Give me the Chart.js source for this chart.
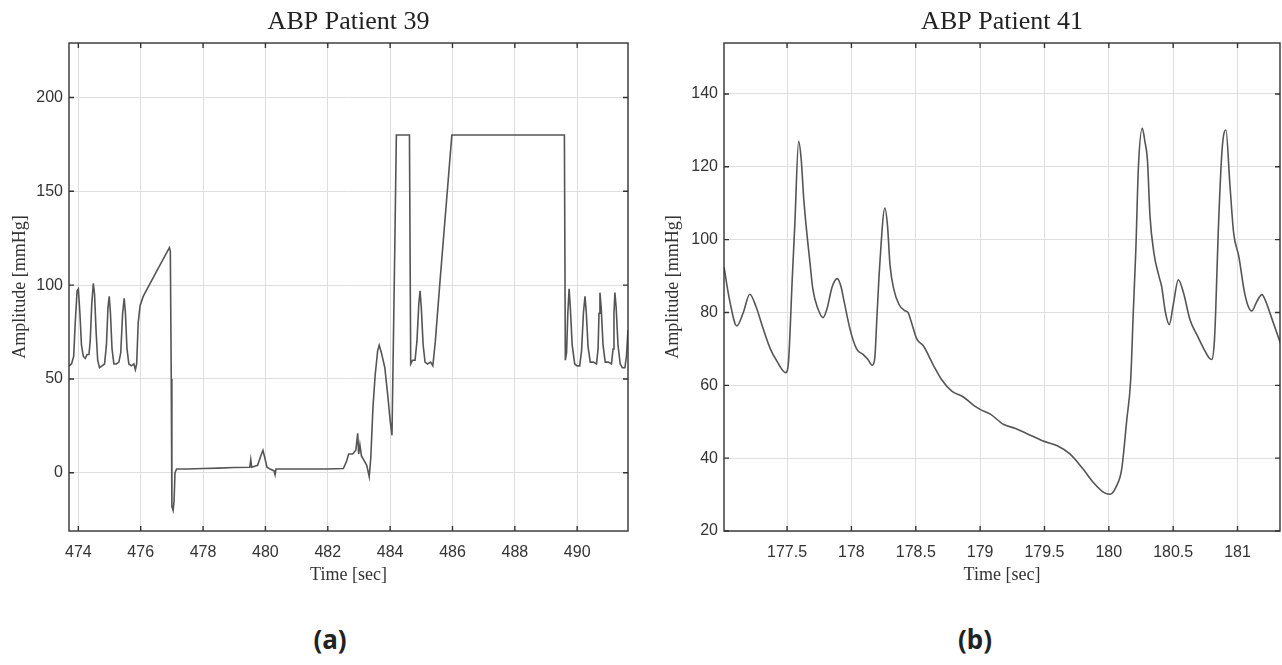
<!DOCTYPE html>
<html>
<head>
<meta charset="utf-8">
<script src="https://cdn.jsdelivr.net/npm/chart.js@4.4.1/dist/chart.umd.min.js"></script>
<style>
  body { margin: 0; background: #fff; width: 1282px; height: 665px; position: relative; overflow: hidden; }
  .panel { position: absolute; top: 0; }
  .panel canvas { display: block; }
  .caption { position: absolute; top: 621px; line-height: 30px; font: bold 26px "Noto Sans", sans-serif; color: #222; transform: translateX(-50%); }
</style>
</head>
<body>
<div class="panel" style="left:0"><canvas id="chartA" width="640" height="600"></canvas></div>
<div class="panel" style="left:640px"><canvas id="chartB" width="642" height="600"></canvas></div>
<div class="caption" style="left:330px">(a)</div>
<div class="caption" style="left:975px">(b)</div>

<script>
// Panel (a): ABP Patient 39
const time39 = [473.70, 473.78, 473.85, 473.90, 473.96, 474.00, 474.05, 474.10, 474.16, 474.22, 474.28, 474.34,
  474.38, 474.43, 474.48, 474.52, 474.57, 474.62, 474.68, 474.76, 474.84, 474.90, 474.95, 474.99, 475.03, 475.08,
  475.14, 475.22, 475.30, 475.36, 475.42, 475.47, 475.51, 475.56, 475.62, 475.70, 475.78, 475.83, 475.87, 475.92,
  475.98, 476.08, 476.50, 476.92, 476.95, 476.98, 477.00, 477.04, 477.07, 477.10, 477.15, 477.50, 478.00, 478.50,
  479.00, 479.50, 479.53, 479.56, 479.75, 479.85, 479.92, 479.98, 480.05, 480.15, 480.28, 480.31, 480.34, 481.00,
  482.00, 482.50, 482.60, 482.67, 482.80, 482.90, 482.96, 482.99, 483.03, 483.08, 483.15, 483.25, 483.33, 483.38,
  483.45, 483.52, 483.60, 483.65, 483.72, 483.83, 483.92, 484.00, 484.06, 484.15, 484.20, 484.62, 484.66, 484.72,
  484.80, 484.86, 484.92, 484.96, 485.00, 485.06, 485.12, 485.20, 485.30, 485.37, 485.45, 485.60, 485.98, 489.59,
  489.62, 489.66, 489.70, 489.74, 489.78, 489.84, 489.92, 490.00, 490.08, 490.14, 490.20, 490.25, 490.29, 490.35,
  490.42, 490.52, 490.62, 490.67, 490.70, 490.73, 490.77, 490.83, 490.90, 491.00, 491.10, 491.15, 491.18, 491.21,
  491.25, 491.31, 491.38, 491.45, 491.53, 491.58, 491.63];
const abp39 = [57, 58, 62, 80, 97, 98, 85, 68, 62, 61, 63, 63,
  70, 90, 101, 95, 75, 60, 56, 57, 58, 68, 88, 94, 85, 66,
  58, 58, 59, 64, 85, 93, 85, 66, 58, 57, 58, 55, 58, 80,
  89, 94, 107, 120, 118, 50, -18, -20, -15, 0, 2, 2, 2.3, 2.5,
  2.8, 3, 7, 3, 4, 9, 12, 8, 3, 2, 1, -1, 2, 2,
  2, 2.3, 6, 10, 10, 12, 21, 10, 15, 9, 7, 4, -2, 8,
  35, 52, 65, 68, 64, 56, 42, 28, 20, 120, 180, 180, 58, 60,
  60, 70, 90, 97, 88, 68, 59, 58, 59, 57, 70, 102, 180, 180,
  60, 64, 85, 98, 88, 68, 58, 57, 57, 65, 85, 94, 86, 67,
  59, 59, 58, 66, 85, 96, 88, 68, 59, 59, 58, 66, 85, 96,
  88, 68, 58, 56, 56, 62, 76];
const xTicks39 = [474, 476, 478, 480, 482, 484, 486, 488, 490];
const yTicks39 = [0, 50, 100, 150, 200];

// Panel (b): ABP Patient 41
const time41 = [177.01, 177.05, 177.11, 177.16, 177.21, 177.26, 177.31, 177.37, 177.42, 177.49, 177.51, 177.54,
  177.56, 177.59, 177.61, 177.63, 177.68, 177.70, 177.74, 177.78, 177.81, 177.85, 177.89, 177.92, 177.94, 177.99,
  178.04, 178.09, 178.13, 178.16, 178.18, 178.20, 178.22, 178.26, 178.28, 178.30, 178.33, 178.37, 178.41, 178.44,
  178.46, 178.51, 178.56, 178.64, 178.70, 178.78, 178.87, 178.95, 179.00, 179.08, 179.18, 179.27, 179.36, 179.49,
  179.60, 179.70, 179.80, 179.88, 179.96, 180.01, 180.06, 180.10, 180.14, 180.17, 180.19, 180.21, 180.23, 180.26,
  180.28, 180.30, 180.32, 180.35, 180.39, 180.41, 180.44, 180.47, 180.50, 180.54, 180.58, 180.63, 180.69, 180.74,
  180.78, 180.80, 180.82, 180.83, 180.85, 180.88, 180.91, 180.94, 180.97, 181.01, 181.05, 181.08, 181.11, 181.15,
  181.19, 181.22, 181.26, 181.35];
const abp41 = [92.5, 84, 76.3, 80, 85, 81.5, 76, 70, 66.7, 63.5, 66, 89,
  104, 127, 122, 111, 93, 86.5, 81, 78.6, 81, 87, 89.3, 87, 83.6, 75.3,
  70, 68.5, 67, 65.5, 67, 80, 93, 108.7, 104, 93, 86.3, 82.2, 80.6, 80,
  78, 72.6, 70.8, 65.3, 61.6, 58.4, 56.8, 54.5, 53.4, 52.1, 49.3, 48.2, 46.8, 44.7,
  43.4, 41.1, 37, 33.3, 30.6, 30.1, 32.4, 37, 50.7, 61.6, 80, 97.3, 120, 130.6,
  127, 121.9, 106.4, 96.4, 89.9, 87.2, 80, 76.7, 82, 89, 85.4, 78.1, 73.5, 69.9,
  67.5, 67.1, 72, 80, 101.9, 124.7, 130.1, 115.5, 101.8, 95.4, 86.3, 82, 80.4, 83,
  84.9, 83, 79, 69.9];
const xTicks41 = [177.5, 178, 178.5, 179, 179.5, 180, 180.5, 181];
const yTicks41 = [20, 40, 60, 80, 100, 120, 140];

const gridColor = '#dedede';
const tickFont = { family: 'Liberation Sans', size: 16 };
const labelFont = { family: 'Liberation Serif', size: 18 };

// MATLAB-like box, inward ticks and title over the plot area
const matlabFrame = {
  id: 'matlabFrame',
  afterDraw(chart, args, opts) {
    const { ctx, chartArea: a, scales } = chart;
    ctx.save();
    ctx.strokeStyle = '#333';
    ctx.lineWidth = 1.4;
    ctx.strokeRect(a.left, a.top, a.right - a.left, a.bottom - a.top);
    const len = 5;
    ctx.beginPath();
    scales.x.ticks.forEach(t => {
      const px = scales.x.getPixelForValue(t.value);
      ctx.moveTo(px, a.bottom); ctx.lineTo(px, a.bottom - len);
      ctx.moveTo(px, a.top); ctx.lineTo(px, a.top + len);
    });
    scales.y.ticks.forEach(t => {
      const py = scales.y.getPixelForValue(t.value);
      ctx.moveTo(a.left, py); ctx.lineTo(a.left + len, py);
      ctx.moveTo(a.right, py); ctx.lineTo(a.right - len, py);
    });
    ctx.stroke();
    ctx.fillStyle = '#222';
    ctx.font = '26px "Liberation Serif"';
    ctx.textAlign = 'center';
    ctx.textBaseline = 'middle';
    ctx.fillText(opts.text, (a.left + a.right) / 2, 22);
    ctx.restore();
  }
};

function makeChart(id, times, values, xTicks, yTicks, xRange, yRange, title, yWidth, padRight, yTitlePad, smooth) {
  const ctx = document.getElementById(id).getContext('2d');
  return new Chart(ctx, {
    type: 'line',
    data: {
      datasets: [{
        data: times.map((t, i) => ({ x: t, y: values[i] })),
        borderColor: '#555',
        borderWidth: 1.6,
        pointRadius: 0,
        fill: false,
        tension: smooth ? 0.4 : 0,
        cubicInterpolationMode: smooth ? 'monotone' : 'default'
      }]
    },
    options: {
      responsive: false,
      animation: false,
      layout: { padding: { top: 43, right: padRight, left: 0, bottom: 0 } },
      plugins: {
        legend: { display: false },
        tooltip: { enabled: false },
        matlabFrame: { text: title }
      },
      scales: {
        x: {
          type: 'linear',
          min: xRange[0],
          max: xRange[1],
          afterBuildTicks: s => { s.ticks = xTicks.map(v => ({ value: v })); },
          afterFit: s => { s.height = 69; },
          grid: { color: gridColor, drawTicks: false },
          border: { display: false },
          ticks: { padding: 12, color: '#333', font: tickFont, maxRotation: 0, autoSkip: false, callback: v => String(v) },
          title: { display: true, text: 'Time [sec]', color: '#333', font: labelFont, padding: { top: 0, bottom: 14 } }
        },
        y: {
          type: 'linear',
          min: yRange[0],
          max: yRange[1],
          afterBuildTicks: s => { s.ticks = yTicks.map(v => ({ value: v })); },
          afterFit: s => { s.width = yWidth; },
          grid: { color: gridColor, drawTicks: false },
          border: { display: false },
          ticks: { padding: 6, color: '#333', font: tickFont, autoSkip: false, callback: v => String(v) },
          title: { display: true, text: 'Amplitude [mmHg]', color: '#333', font: labelFont, padding: { top: yTitlePad, bottom: 0 } }
        }
      }
    },
    plugins: [matlabFrame]
  });
}

makeChart('chartA', time39, abp39, xTicks39, yTicks39, [473.7, 491.63], [-31, 229], 'ABP Patient 39', 69, 12, 9, false);
makeChart('chartB', time41, abp41, xTicks41, yTicks41, [177.01, 181.33], [20, 154], 'ABP Patient 41', 84, 2, 22, true);
</script>
</body>
</html>
